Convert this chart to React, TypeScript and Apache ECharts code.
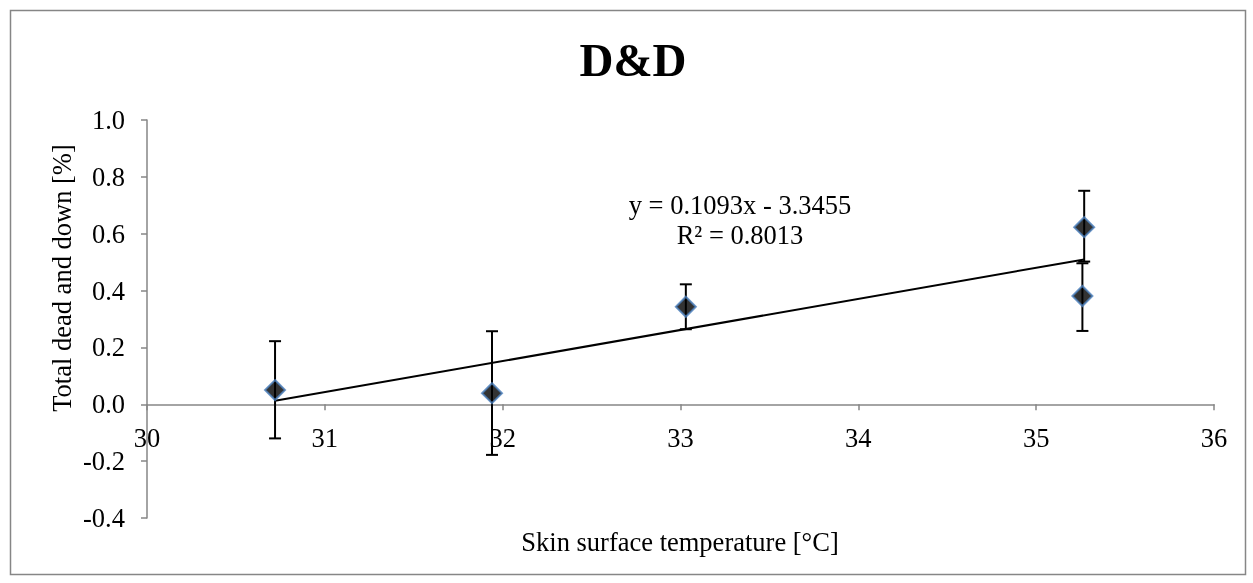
import React, { useEffect, useRef } from "react";
import * as echarts from "echarts";

const xVals = [30.72, 31.94, 33.03, 35.27, 35.26];
const yVals = [0.05, 0.039, 0.343, 0.623, 0.381];
const errHigh = [0.222, 0.257, 0.422, 0.751, 0.496];
const errLow = [-0.12, -0.178, 0.264, 0.502, 0.258];
const slope = 0.1093;
const intercept = -3.3455;
const equationText = "y = 0.1093x - 3.3455";
const r2Text = "R² = 0.8013";
const titleText = "D&D";
const xTitle = "Skin surface temperature [°C]";
const yTitle = "Total dead and down [%]";

const FONT = "Liberation Serif";

function txt(text: string, x: number, y: number, size: number, bold = false, rotation = 0) {
  const style: any = {
    text,
    fontFamily: FONT,
    fontSize: size,
    fill: "#000",
    textAlign: "center",
    textVerticalAlign: "middle",
  };
  if (bold) style.fontWeight = "bold";
  return { type: "text", x, y, rotation, style };
}

export default function App() {
  const ref = useRef<HTMLDivElement>(null);
  useEffect(() => {
    if (!ref.current) return;
    const chart = echarts.init(ref.current, undefined, { renderer: "svg" });
    const xMin = Math.min(...xVals);
    const xMax = Math.max(...xVals);
    const trend = [
      [xMin, slope * xMin + intercept],
      [xMax, slope * xMax + intercept],
    ];
    const errData = xVals.map((x, i) => [x, errLow[i], errHigh[i]]);
    const axisColor = "#868686";
    const gridTop = 120;
    const gridBottom = 65;
    const plotH = 583 - gridTop - gridBottom;
    const yMin = -0.4;
    const yMax = 1.0;
    const zeroOffset = -plotH * (0 - yMin) / (yMax - yMin);
    chart.setOption({
      animation: false,
      grid: { left: 147, right: 39, top: gridTop, bottom: gridBottom, containLabel: false },
      xAxis: {
        type: "value",
        min: 30,
        max: 36,
        interval: 1,
        offset: zeroOffset,
        axisLine: { onZero: false, lineStyle: { color: axisColor, width: 1.5 } },
        axisTick: { show: true, length: 6, lineStyle: { color: axisColor, width: 1.5 } },
        axisLabel: { color: "#000", fontSize: 26.5, fontFamily: FONT, margin: 20 },
        splitLine: { show: false },
      },
      yAxis: {
        type: "value",
        min: yMin,
        max: yMax,
        interval: 0.2,
        axisLine: { show: true, onZero: false, lineStyle: { color: axisColor, width: 1.5 } },
        axisTick: { show: true, length: 6, lineStyle: { color: axisColor, width: 1.5 } },
        axisLabel: {
          color: "#000",
          fontSize: 26.5,
          fontFamily: FONT,
          margin: 22,
          formatter: (v: number) => v.toFixed(1),
        },
        splitLine: { show: false },
      },
      graphic: [
        {
          type: "rect",
          shape: { x: 10.5, y: 10.5, width: 1235, height: 564 },
          style: { fill: "none", stroke: axisColor, lineWidth: 1.5 },
          z: -10,
        },
        txt(titleText, 633, 60, 47, true),
        txt(xTitle, 680, 542, 26.5),
        txt(yTitle, 62, 278, 26.5, false, Math.PI / 2),
        txt(equationText, 740, 205, 26.5),
        txt(r2Text, 740, 235, 26.5),
      ],
      series: [
        {
          type: "custom",
          data: errData,
          z: 1,
          renderItem: (params: any, api: any) => {
            const x = api.value(0);
            const lo = api.coord([x, api.value(1)]);
            const hi = api.coord([x, api.value(2)]);
            const cap = 6;
            const st = { stroke: "#000", lineWidth: 2 };
            return {
              type: "group",
              children: [
                { type: "line", shape: { x1: lo[0], y1: lo[1], x2: hi[0], y2: hi[1] }, style: st },
                { type: "line", shape: { x1: hi[0] - cap, y1: hi[1], x2: hi[0] + cap, y2: hi[1] }, style: st },
                { type: "line", shape: { x1: lo[0] - cap, y1: lo[1], x2: lo[0] + cap, y2: lo[1] }, style: st },
              ],
            };
          },
        },
        {
          type: "line",
          data: trend,
          symbol: "none",
          z: 2,
          lineStyle: { color: "#000", width: 2 },
        },
        {
          type: "scatter",
          data: xVals.map((x, i) => [x, yVals[i]]),
          symbol: "diamond",
          symbolSize: 20,
          z: 3,
          itemStyle: { color: "#000", borderColor: "#4a7ebb", borderWidth: 2 },
        },
      ],
    });
    return () => chart.dispose();
  }, []);
  return (
    <div
      ref={ref}
      style={{ position: "fixed", left: 0, top: 0, width: 1253, height: 583 }}
    />
  );
}
